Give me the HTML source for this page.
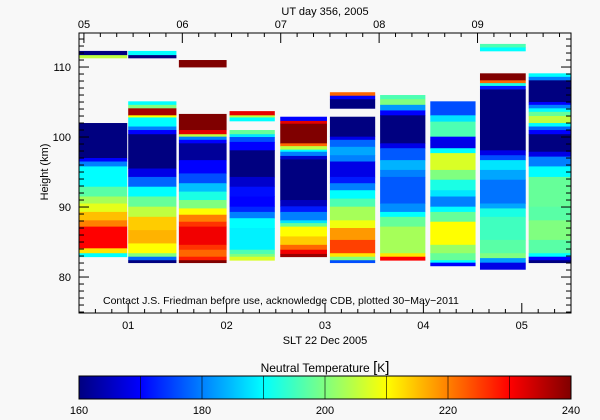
<!DOCTYPE html>
<html><head><meta charset="utf-8"><style>
body{margin:0;background:#f8f8f8;}
svg{display:block;font-family:"Liberation Sans",sans-serif;}
</style></head><body>
<svg id="chart" width="600" height="420" viewBox="0 0 600 420" xmlns="http://www.w3.org/2000/svg">
<rect width="600" height="420" fill="#f8f8f8"/>
<g id="cells"></g>
<g id="axes"></g>
<g id="cbar"></g>
<text x="325" y="15" text-anchor="middle" font-size="11">UT day 356, 2005</text>
<text x="325" y="344" text-anchor="middle" font-size="11">SLT 22 Dec 2005</text>
<text transform="translate(48,172) rotate(-90)" text-anchor="middle" font-size="11">Height (km)</text>
<text x="103" y="304" font-size="10.5">Contact J.S. Friedman before use, acknowledge CDB, plotted 30−May−2011</text>
<text x="325" y="372" text-anchor="middle" font-size="12">Neutral Temperature <tspan font-size="15">[</tspan>K<tspan font-size="15">]</tspan></text>
</svg>
<script>
const colStart=[0.5,1.0,1.515,2.03,2.545,3.05,3.56,4.07,4.575,5.07];
const colEnd=[0.99,1.49,2.0,2.49,3.02,3.51,4.02,4.53,5.04,5.5];
const edges0=[112.3,111.7,111.3,102.0,97.0,96.5,95.8,92.9,91.5,90.5,89.3,88.1,87.2,84.1,83.4,82.9];
const temps0=[160,205,null,160,170,180,190,197,203,208,215,220,230,212,190];
const edges1=[112.3,111.7,111.3,105.1,104.6,104.1,103.1,102.8,101.5,101.0,100.4,95.5,94.3,92.9,91.5,90.05,88.6,86.7,84.8,83.4,82.9,82.4,82.05];
const temps1=[190,160,null,190,200,237,210,190,180,170,160,168,178,190,198,205,214,216,210,200,178,160];
const edges2=[111.0,110.0,103.3,101.0,100.4,100.05,99.6,99.1,96.7,94.8,93.4,92.2,91.0,89.8,88.9,87.9,87.2,84.6,83.9,82.9,82.4,82.05];
const temps2=[240,null,240,232,205,180,170,162,170,176,185,192,200,210,220,226,231,226,222,228,240];
const edges3=[103.7,103.1,102.8,102.3,101.0,100.4,100.0,99.3,98.1,94.3,92.9,91.5,90.05,89.3,88.4,87.0,83.9,83.3,82.9,82.4];
const temps3=[232,205,190,null,198,188,176,170,160,166,171,170,173,180,190,189,196,200,207];
const edges4=[102.9,102.3,101.9,99.1,98.7,98.2,97.9,97.3,96.8,91.0,90.1,89.3,88.1,87.7,87.2,85.8,84.6,83.9,83.3,82.9];
const temps4=[170,232,240,222,205,190,180,166,160,165,172,180,188,198,210,214,222,231,238];
const edges5=[106.4,105.9,105.4,104.1,102.9,100.05,99.6,98.6,97.4,96.5,94.3,93.4,92.4,91.2,90.05,88.1,87.0,85.3,83.4,82.9,82.4,82.05];
const temps5=[222,170,160,null,160,168,178,183,180,168,172,180,190,196,203,209,218,225,212,200,176];
const edges6=[106.0,105.4,104.6,103.8,103.1,99.1,98.4,96.7,95.3,94.3,90.5,89.3,88.6,87.2,83.4,82.9,82.4];
const temps6=[196,200,182,170,160,168,177,184,180,177,181,190,198,203,212,230];
const edges7=[105.1,103.1,102.2,100.05,99.6,98.4,97.7,95.3,93.9,92.4,91.5,90.05,89.3,87.9,84.6,83.4,82.4,82.05,81.6];
const temps7=[176,188,196,170,168,190,207,200,192,188,180,190,198,210,202,198,190,170];
const edges8=[113.3,112.8,112.3,109.1,108.1,107.7,107.3,106.8,98.1,97.4,96.7,95.3,93.9,90.5,89.8,88.6,85.3,83.4,82.7,82.05,81.1];
const temps8=[196,190,null,240,222,192,172,160,168,176,188,183,179,183,192,195,197,200,182,168];
const edges9=[109.1,108.6,108.1,105.0,104.6,104.1,103.6,103.0,102.0,101.5,101.0,100.4,97.9,97.2,95.8,94.3,90.05,88.1,85.3,83.4,82.9,82.4,82.05];
const temps9=[190,180,160,170,180,190,198,205,190,178,170,160,168,180,190,198,197,200,197,190,170,160];
const yTicks=[80,90,100,110];
const sltTicks=[1,2,3,4,5];
const sltLabels=["01","02","03","04","05"];
const utTicks=[5,6,7,8,9];
const utLabels=["05","06","07","08","09"];
const cbTicks=[160,180,200,220,240];
const utOffset=4.45;
const tMin=160,tMax=240;

const allEdges=[edges0,edges1,edges2,edges3,edges4,edges5,edges6,edges7,edges8,edges9];
const allTemps=[temps0,temps1,temps2,temps3,temps4,temps5,temps6,temps7,temps8,temps9];
const L=79,R=571,T=33,B=313,x0=0.5,x1=5.5,h0=74.86,h1=114.86;
const X=v=>L+(v-x0)/(x1-x0)*(R-L);
const Y=h=>B-(h-h0)/(h1-h0)*(B-T);
function jet(t){let v=(t-tMin)/(tMax-tMin);v=Math.max(0,Math.min(1,v));
 const c=a=>Math.round(255*Math.max(0,Math.min(1,1.5-Math.abs(4*v-a))));
 return `rgb(${c(3)},${c(2)},${c(1)})`;}
const NS="http://www.w3.org/2000/svg";
function mk(tag,attrs,parent){const e=document.createElementNS(NS,tag);for(const k in attrs)e.setAttribute(k,attrs[k]);parent.appendChild(e);return e;}
const cells=document.getElementById('cells');
allEdges.forEach((ed,ci)=>{
 const tp=allTemps[ci];
 const xa=X(colStart[ci]),xb=X(colEnd[ci]);
 for(let i=0;i<tp.length;i++){ if(tp[i]===null)continue;
  const ya=Y(ed[i]),yb=Y(ed[i+1]);
  const r=mk('rect',{x:xa,y:ya,width:xb-xa,height:(yb-ya)+0.4,fill:jet(tp[i])},cells);
  
  
 }
});
const ax=document.getElementById('axes');
const frame=mk('rect',{x:L,y:T,width:R-L,height:B-T,fill:'none',stroke:'#000','stroke-width':1},ax);


// y ticks
for(let h=75;h<=114;h++){const y=Y(h);const major=h%10===0;const len=major?10:5;
 mk('line',{x1:L,x2:L+len,y1:y,y2:y,stroke:'#000'},ax);
 mk('line',{x1:R,x2:R-len,y1:y,y2:y,stroke:'#000'},ax);}
yTicks.forEach(h=>{const t=mk('text',{x:L-8,y:Y(h)+4,'text-anchor':'end','font-size':11},ax);t.textContent=h;
 
 });
// bottom ticks (10 min)
for(let m=Math.ceil(x0*6);m<=x1*6;m++){const v=m/6;const x=X(v);const major=m%6===0;const len=major?10:4;
 mk('line',{x1:x,x2:x,y1:B,y2:B-len,stroke:'#000'},ax);}
sltTicks.forEach((v,i)=>{const t=mk('text',{x:X(v),y:329,'text-anchor':'middle','font-size':11},ax);t.textContent=sltLabels[i];
 
 });
// top ticks UT
for(let m=Math.ceil((x0+utOffset)*6);m<=(x1+utOffset)*6;m++){const v=m/6-utOffset;const x=X(v);const major=m%6===0;const len=major?10:4;
 mk('line',{x1:x,x2:x,y1:T,y2:T+len,stroke:'#000'},ax);}
utTicks.forEach((v,i)=>{const t=mk('text',{x:X(v-utOffset)-6,y:28,'font-size':11},ax);t.textContent=utLabels[i];
 
 });
// colorbar
const cb=document.getElementById('cbar');const cy0=376,cy1=399;
const defs=mk('defs',{},cb);const g=mk('linearGradient',{id:'jetg',x1:0,x2:1,y1:0,y2:0},defs);
for(let i=0;i<=16;i++){const tv=tMin+(tMax-tMin)*i/16;mk('stop',{offset:(i/16),'stop-color':jet(tv)},g);}
const CX=t=>L+(t-tMin)/(tMax-tMin)*(R-L);
const bar=mk('rect',{x:L,y:cy0,width:R-L,height:cy1-cy0,fill:'url(#jetg)',stroke:'#000'},cb);


for(let t=tMin+10;t<tMax;t+=10)mk('line',{x1:CX(t),x2:CX(t),y1:cy0,y2:cy1,stroke:'#000','stroke-opacity':0.6},cb);
cbTicks.forEach(t=>{const e=mk('text',{x:CX(t),y:414,'text-anchor':'middle','font-size':11},cb);e.textContent=t;
 
 });
</script>
</body></html>
